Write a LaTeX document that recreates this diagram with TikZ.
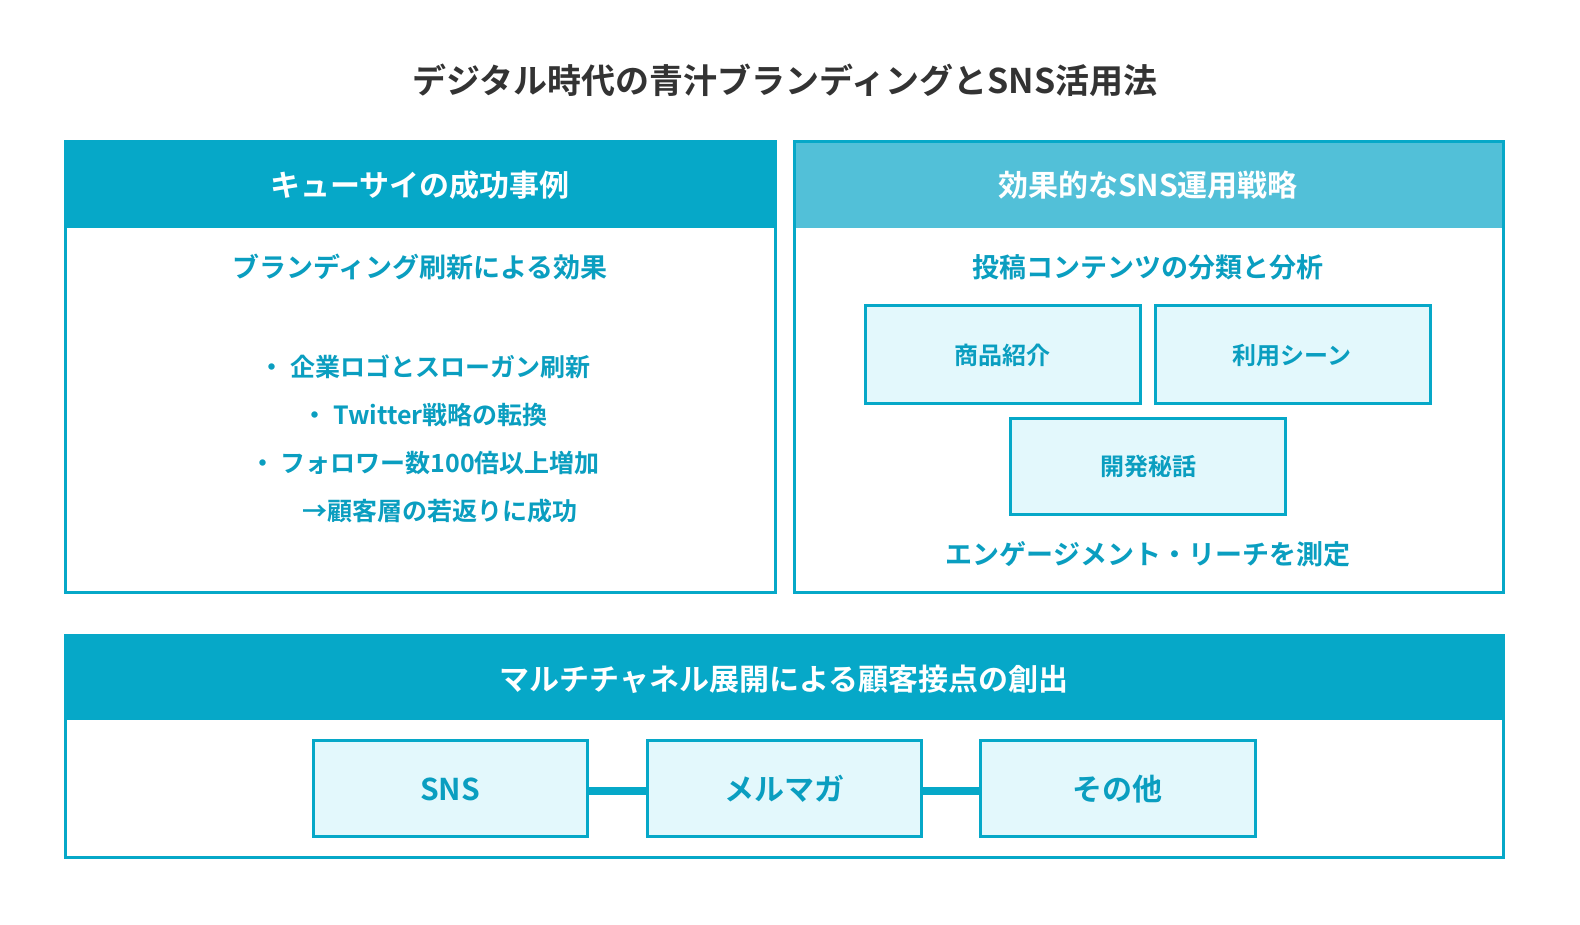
\documentclass[tikz,border=0pt]{standalone}
\usepackage{fontspec}
\setmainfont{Noto Sans CJK JP Bold}
\definecolor{dk}{HTML}{06A8C8}
\definecolor{lt}{HTML}{52C0D8}
\definecolor{tx}{HTML}{0A9EC0}
\definecolor{bx}{HTML}{E3F8FC}
\definecolor{tt}{HTML}{333333}
\tikzset{
 panel/.style={draw=dk,line width=3pt,fill=white},
 sbox/.style={draw=dk,line width=3pt,fill=bx},
 htext/.style={text=white,font=\fontsize{30}{36}\selectfont},
 sub/.style={text=tx,font=\fontsize{27}{32}\selectfont},
 btext/.style={text=tx,font=\fontsize{24}{30}\selectfont},
 item/.style={text=tx,font=\fontsize{25}{30}\selectfont},
}
\begin{document}
\begin{tikzpicture}[x=1pt,y=-1pt]
\useasboundingbox (0,0) rectangle (1580,925);
\node[text=tt,font=\fontsize{34}{40}\selectfont] (title) at (785,80) {デジタル時代の青汁ブランディングとSNS活用法};
% left
\draw[panel] (65,142) rectangle (775,592);
\fill[dk] (65,142) rectangle (775,228);
\draw[dk,line width=3pt] (65,142) rectangle (775,592);
\node[htext] (lh) at (420,185) {キューサイの成功事例};
\node[sub] (ls) at (420,267) {ブランディング刷新による効果};
\node[item] (i1) at (425,367) {・ 企業ロゴとスローガン刷新};
\node[item] (i2) at (425,415) {・ Twitter戦略の転換};
\node[item] (i3) at (425,463) {・ フォロワー数100倍以上増加};
\node[item] (i4) at (440,511) {→顧客層の若返りに成功};
% right
\draw[panel] (794,142) rectangle (1503,592);
\fill[lt] (794,142) rectangle (1503,228);
\draw[dk,line width=3pt] (794,142) rectangle (1503,592);
\node[htext] (rh) at (1148,185) {効果的なSNS運用戦略};
\node[sub] (rs) at (1148,267) {投稿コンテンツの分類と分析};
\draw[sbox] (865,306) rectangle (1140,403);
\node[btext] (b1) at (1002,355) {商品紹介};
\draw[sbox] (1155,306) rectangle (1430,403);
\node[btext] (b2) at (1292,355) {利用シーン};
\draw[sbox] (1010,418) rectangle (1285,514);
\node[btext] (b3) at (1148,466) {開発秘話};
\node[sub] (rm) at (1148,554) {エンゲージメント・リーチを測定};
% bottom
\fill[dk] (65,635) rectangle (1503,720);
\draw[dk,line width=3pt] (65,635) rectangle (1503,857);
\node[htext] (bh) at (784,679) {マルチチャネル展開による顧客接点の創出};
\draw[dk,line width=8pt] (587,791) -- (647,791);
\draw[dk,line width=8pt] (921,791) -- (980,791);
\draw[sbox] (313,740) rectangle (587,836);
\node[text=tx,font=\fontsize{30}{36}\selectfont] (c1) at (450,789) {SNS};
\draw[sbox] (647,740) rectangle (921,836);
\node[text=tx,font=\fontsize{30}{36}\selectfont] (c2) at (784,789) {メルマガ};
\draw[sbox] (980,740) rectangle (1255,836);
\node[text=tx,font=\fontsize{30}{36}\selectfont] (c3) at (1117,789) {その他};
\end{tikzpicture}
\end{document}
